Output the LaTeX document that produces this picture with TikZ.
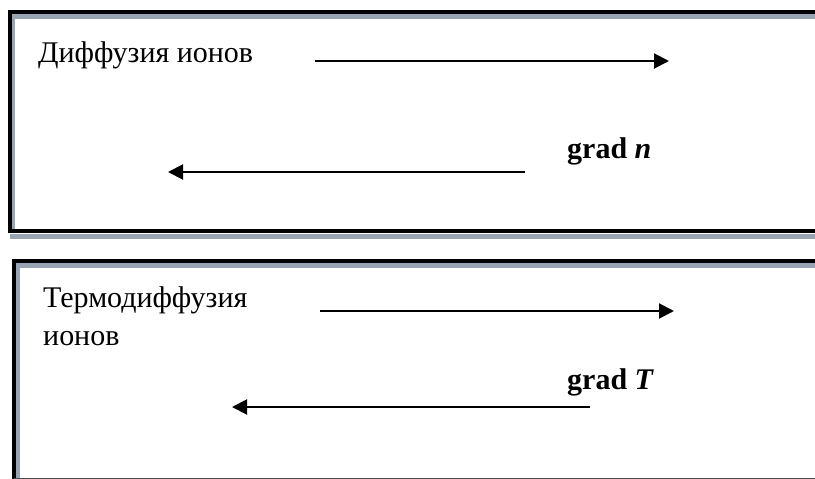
\documentclass[tikz,border=0pt]{standalone}
\usepackage{fontspec}
\setmainfont{Liberation Serif}
\usetikzlibrary{arrows.meta}
\definecolor{shadowgray}{HTML}{98A4B2}
\tikzset{
  lbl/.style={anchor=base west, inner sep=0pt, font=\fontsize{30}{36}\selectfont},
  gradlbl/.style={lbl, font=\fontsize{30}{36}\selectfont\bfseries},
  flow/.style={line width=2pt, -{Triangle[length=15pt,width=15pt]}},
  blackedge/.style={line width=4pt, black},
  grayedge/.style={line width=4.5pt, shadowgray},
}
\begin{document}
\begin{tikzpicture}[x=1pt,y=-1pt]
\useasboundingbox (0,0) rectangle (815,479);
\fill[white] (0,0) rectangle (815,479);
\begin{scope}
\clip (0,0) rectangle (815,479);
% box 1
\draw[grayedge] (10,236.5) -- (815,236.5);
\draw[grayedge] (815,16.5) -- (13.2,16.5) -- (13.2,229);
\draw[blackedge] (815,12) -- (10,12) -- (10,231) -- (815,231);
% box 2
\draw[grayedge] (815,265.5) -- (17.5,265.5) -- (17.5,490);
\draw[blackedge] (815,261) -- (14,261) -- (14,490);
\draw[line width=1.5pt, black!70] (14,478.5) -- (815,478.5);
\end{scope}
% texts
\node[lbl] (t1) at (38,63) {Диффузия ионов};
\node[gradlbl] (g1) at (567,158) {grad \textit{n}};
\node[lbl] (t2a) at (43,307) {Термодиффузия};
\node[lbl] (t2b) at (43,345) {ионов};
\node[gradlbl] (g2) at (567,389) {grad \textit{T}};
% arrows
\coordinate (a1s) at (315,61); \coordinate (a1e) at (669,61);
\coordinate (a2s) at (525,172); \coordinate (a2e) at (168,172);
\coordinate (a3s) at (320,311); \coordinate (a3e) at (674,311);
\coordinate (a4s) at (590,407); \coordinate (a4e) at (232,407);
\draw[flow] (a1s) -- (a1e);
\draw[flow] (a2s) -- (a2e);
\draw[flow] (a3s) -- (a3e);
\draw[flow] (a4s) -- (a4e);
\end{tikzpicture}
\end{document}
